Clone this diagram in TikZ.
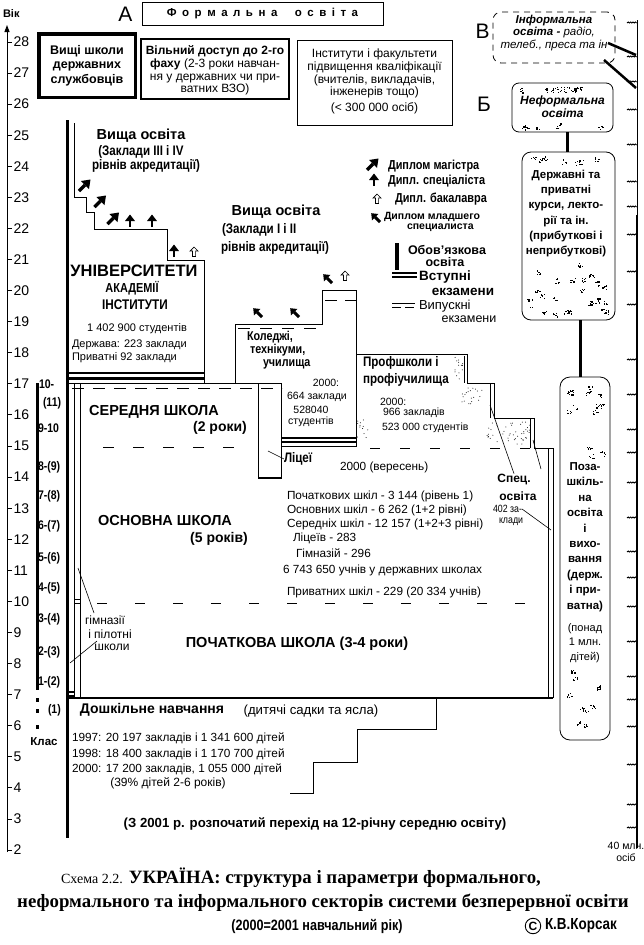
\documentclass[tikz,border=0pt]{standalone}
\usepackage{fontspec}
\setmainfont{Liberation Sans}
\newfontfamily\nar[FakeStretch=0.84]{Liberation Sans}
\newfontfamily\serf{Liberation Serif}
\usetikzlibrary{arrows.meta}
\newcommand\fz[2]{\fontsize{#1}{#2}\selectfont}
\newcommand\glyphs[5]{%
  \foreach \k in {1,...,#5}{%
    \pgfmathsetmacro\gx{#1+rnd*(#3-#1)}%
    \pgfmathsetmacro\gy{#2+rnd*(#4-#2)}%
    \foreach \m in {1,...,6}{%
      \fill ({\gx+rnd*5},{\gy+rnd*5}) rectangle ++(1.2,1.2);%
    }%
  }%
}
\newcommand\stip[5]{%
  \foreach \k in {1,...,#5}{%
    \fill ({#1+rnd*(#3-#1)},{#2+rnd*(#4-#2)}) circle (0.5pt);%
  }%
}
\newcommand\squig[1]{%
  \draw[line width=0.9pt] (627,#1) -- ++(1.2,-1) -- ++(1.2,1) -- ++(1.2,-1) -- ++(1.2,1) -- ++(1.2,-1) -- ++(1.2,1) -- ++(1.2,-1) -- ++(1.2,1);%
}
\tikzset{
  magar/.pic={\draw[line width=3.2pt] (-5,5) -- (1,-1); \fill (6.5,-6.5) -- (5,3) -- (-3,-5) -- cycle;},
  specar/.pic={\draw[line width=2.6pt] (0,6) -- (0,-1); \fill (0,-6.5) -- (-5,0) -- (5,0) -- cycle;},
  bacar/.pic={\draw[line width=0.7pt] (0,-5) -- (-4,-1) -- (-1.6,-1) -- (-1.6,4.5) -- (1.6,4.5) -- (1.6,-1) -- (4,-1) -- cycle;},
  junar/.pic={\begin{scope}[scale=0.8]\draw[line width=3pt] (5,5) -- (-1,-1); \fill (-6,-6) -- (-5,3) -- (3,-5) -- cycle;\end{scope}},
  cls/.style={anchor=west,font={\nar\bfseries\fz{12.5}{12.5}}},
  stat/.style={anchor=west,font={\fz{11.8}{11.8}}},
  bignar/.style={font={\nar\bfseries\fz{13.8}{13.8}}},
  kolnar/.style={anchor=west,font={\nar\bfseries\fz{12.8}{12.8}}},
  dashA/.style={dash pattern=on 12pt off 10pt},
}
\begin{document}
\begin{tikzpicture}[x=1pt,y=-1pt,line width=0.8pt,every node/.style={inner sep=0pt,outer sep=0pt}]
\useasboundingbox (0,0) rectangle (644,945);
\fill[white] (0,0) rectangle (644,945);
\pgfmathsetseed{4321}

% ---------- age axis ----------
\draw[line width=1pt,-{Triangle[length=7pt,width=5pt]}] (7,852) -- (7,25);
\foreach \a in {2,...,28}{
  \pgfmathsetmacro\yy{42+(28-\a)*31.08}
  \draw[line width=1pt] (7,\yy) -- (12,\yy);
  \node[anchor=west,font=\fz{14}{14}] (age\a) at (13.5,\yy) {\a};
}
\node[anchor=west,font={\bfseries\fz{11}{11}}] (vik) at (3,13.5) {Вік};

% ---------- class column ----------
\fill (35.5,383) rectangle (39,690);
\foreach \q in {698,709,725}{\fill (35.5,\q) rectangle (39,\q+4);}
\node[cls] (cl10) at (39,384) {10-};
\node[cls] (cl11) at (43,403) {(11)};
\node[cls] (cl9) at (38,428) {9-10};
\node[cls] (cl8) at (38,467) {8-(9)};
\node[cls] (cl7) at (38,496) {7-(8)};
\node[cls] (cl6) at (38,526) {6-(7)};
\node[cls] (cl5) at (38,558) {5-(6)};
\node[cls] (cl4) at (38,588) {4-(5)};
\node[cls] (cl3) at (38,619) {3-(4)};
\node[cls] (cl2) at (38,652) {2-(3)};
\node[cls] (cl1) at (38,682) {1-(2)};
\node[cls] (cl0) at (48,710) {(1)};
\node[font={\bfseries\fz{11.5}{11.5}}] (klas) at (44,742) {Клас};

% ---------- top boxes ----------
\node[font=\fz{21}{21}] (lA) at (125.5,14.5) {А};
\node[draw,minimum width=241pt,minimum height=23pt] (formal) at (262.5,13.5) {};
\node[font={\bfseries\fz{11.5}{11.5}}] (formaltxt) at (262.5,14) {\spaceskip=5.5pt Ф о р м а л ь н а \hspace{12pt}о с в і т а};

\node[draw,line width=3.5pt,minimum width=96.5pt,minimum height=63.5pt,align=center,font={\bfseries\fz{12.5}{14.5}}] (vshds) at (87,65.5) {Вищі школи\\державних\\службовців};

\node[draw,line width=2pt,minimum width=148pt,minimum height=60pt] (vdostup) at (215,69) {};
\node[align=center,font={\fz{12}{12.7}}] (vdostuptxt) at (215,70.5) {\textbf{Вільний доступ до 2-го}\\\textbf{фаху} (2-3 роки навчан-\\ня у державних чи при-\\ватних ВЗО)};

\node[draw,minimum width=155pt,minimum height=85pt] (instbox) at (374.5,82.5) {};
\node[align=center,font={\fz{12}{12.8}}] (insttxt) at (374.5,81.5) {Інститути і факультети\\підвищення кваліфікації\\(вчителів, викладачів,\\інженерів тощо)\\[3pt](< 300 000 осіб)};

% ---------- informal / non-formal ----------
\node[font=\fz{21}{21}] (lV) at (482.5,31.5) {В};
\node[draw,dash pattern=on 6pt off 5pt,rounded corners=8pt,minimum width=122pt,minimum height=51pt] (inf) at (554,37.5) {};
\node[align=center,font={\fz{11.5}{12.5}}] (inftxt) at (554,33) {\textbf{\textit{Інформальна}}\\\textbf{\textit{освіта -}} \textit{радіо,}\\\textit{телеб., преса та ін}};

\node[font=\fz{21}{21}] (lB) at (484,104.5) {Б};
\node[draw,rounded corners=7pt,minimum width=101pt,minimum height=49pt] (nef) at (562.5,107.5) {};
\node[align=center,font={\bfseries\itshape\fz{12}{13}}] (neftxt) at (562.5,106.5) {Неформальна\\освіта};

\node[draw,rounded corners=9pt,minimum width=93pt,minimum height=168pt] (kurs) at (568.5,236) {};
\node[align=center,font={\bfseries\fz{11.5}{15.3}}] (kurstxt) at (566,213.5) {Державні та\\приватні\\курси, лекто-\\рії та ін.\\(прибуткові і\\неприбуткові)};

\node[draw,rounded corners=10pt,minimum width=50pt,minimum height=363pt] (poza) at (585,558.5) {};
\node[align=center,font={\bfseries\fz{11.5}{15.4}}] (pozatxt) at (585,537) {Поза-\\шкіль-\\на\\освіта\\і\\вихо-\\вання\\(держ.\\і при-\\ватна)};
\node[align=center,font={\fz{11}{14.5}}] (pozatxt2) at (585,643) {(понад\\1 млн.\\дітей)};

\draw[line width=3pt] (nef.south -| 567,0) -- (kurs.north -| 567,0);
\draw[line width=3pt] (kurs.south -| 580,0) -- (poza.north -| 580,0);

% decorative glyphs
\glyphs{517}{85}{604}{88}{9}
\glyphs{516}{123}{605}{125}{5}
\glyphs{527}{155}{604}{160}{7}
\glyphs{527}{262}{605}{312}{24}
\glyphs{564}{383}{601}{455}{13}
\glyphs{564}{668}{601}{728}{10}

% right line
\coordinate (r1) at (636,55);
\coordinate (r2) at (636,88);
\draw[line width=1pt] (637,20) -- (637,215);
\draw[line width=2.5pt] (637,215) -- (637,848);
\draw[line width=2.5pt] (608,43) -- (r1);
\draw[line width=2.5pt] (604,60) -- (r2);
\foreach \s in {23,57,82,110,145,182,207,235,272,305,360,395,430,453,483,518,552,578,607,642,677,700,727,765,805,828}{\squig{\s}}
\node[align=center,font={\fz{10.5}{12}}] (mln) at (626,852) {40 млн.\\осіб};

% ---------- main formal structure ----------
\draw[line width=3pt] (67,120) -- (67,838);

% universities
\draw (74,123) -- (74,197) -- (86,197) -- (86,212) -- (94,212) -- (94,229) -- (167,229) -- (167,260) -- (204,260) -- (204,383);
\draw[line width=2.2pt] (68,373) -- (204,373);
\draw[line width=2.2pt] (68,378.5) -- (204,378.5);
\node[font={\bfseries\fz{14.5}{14.5}}] (vo1) at (141,136) {Вища освіта};
\node[bignar] (vo1a) at (141,152) {(Заклади III і IV};
\node[bignar] (vo1b) at (146,166) {рівнів акредитації)};
\pic at (84,186) {magar};
\pic at (99.5,202) {magar};
\pic at (112.5,219) {magar};
\pic at (130,221) {specar};
\pic at (152,221) {specar};
\pic at (174,251) {specar};
\pic at (194,252) {bacar};
\node[font={\bfseries\fz{16.5}{16.5}}] (univ) at (134,271) {УНІВЕРСИТЕТИ};
\node[font={\nar\bfseries\fz{13}{13}}] (akad) at (132,288) {АКАДЕМІЇ};
\node[font={\nar\bfseries\fz{14}{14}}] (instit) at (135,305) {ІНСТИТУТИ};
\node[font=\fz{11}{11}] (st1) at (137,329) {1 402 900 студентів};
\node[anchor=west,font=\fz{11}{11}] (st2) at (72,345) {Держава: 223 заклади};
\node[anchor=west,font=\fz{11}{11}] (st3) at (72,358) {Приватні 92 заклади};

% second higher education label
\node[font={\bfseries\fz{14.5}{14.5}}] (vo2) at (276,212) {Вища освіта};
\node[bignar,anchor=west] (vo2a) at (222,230) {(Заклади І і ІІ};
\node[bignar] (vo2b) at (275,248) {рівнів акредитації)};

% colleges
\draw (235,383) -- (235,324) -- (322,324) -- (322,290) -- (356,290) -- (356,447);
\draw[dashA] (238,328.5) -- (322,328.5);
\draw[dash pattern=on 12pt off 8pt] (325,300) -- (356,300);
\pic at (258,313) {junar};
\pic at (295,313) {junar};
\pic at (328,279) {junar};
\pic at (345,276) {bacar};
\node[kolnar] (kol1) at (247,337) {Коледжі,};
\node[kolnar] (kol2) at (250,350.5) {технікуми,};
\node[kolnar] (kol3) at (263,364) {училища};
\node[font=\fz{10.5}{10.5}] (k2000) at (326,383) {2000:};
\node[font=\fz{10.5}{10.5}] (k664) at (317,397) {664 заклади};
\node[font=\fz{10.5}{10.5}] (k528) at (311,410) {528040};
\node[font=\fz{10.5}{10.5}] (kstud) at (311,422) {студентів};
\draw[line width=2pt] (282,437.5) -- (356,437.5);
\draw[line width=2pt] (282,442) -- (356,442);
\draw[line width=0.8pt] (282,446.5) -- (356,446.5);

% secondary school top
\draw (68,383.5) -- (282,383.5);
\draw[dash pattern=on 12pt off 9pt] (72,388.5) -- (282,388.5);
\node[font={\bfseries\fz{14.5}{14.5}}] (sered) at (154,412) {СЕРЕДНЯ ШКОЛА};
\node[font={\bfseries\fz{14}{14}}] (sered2) at (220,428) {(2 роки)};

% lyceum
\draw (258,383) -- (258,479);
\draw (281,383) -- (281,479);
\draw[line width=2.5pt] (258,478) -- (281,478);
\node[bignar,anchor=west] (lic) at (284,459) {Ліцеї};
\draw[line width=0.6pt] (268,451) -- (lic.west);

% gymnasiums
\draw (74,383) -- (74,698);
\draw (80.5,383) -- (80.5,698);
\draw[line width=1.3pt] (74,599.5) -- (80.5,599.5);
\draw[line width=1.3pt] (74,603.5) -- (80.5,603.5);
\draw[line width=1.3pt] (67,692) -- (74,692);
\draw[line width=1.3pt] (67,696) -- (74,696);
\node[font=\fz{12}{12}] (gym1) at (105,620) {гімназії};
\node[font=\fz{12}{12}] (gym2) at (110,634) {і пілотні};
\node[font=\fz{12}{12}] (gym3) at (112,647) {школи};
\draw[line width=0.6pt] (78,568) -- (94,613);
\draw[line width=0.6pt] (70,663) -- (97,641);

% age-15 boundary
\draw[dash pattern=on 11pt off 19pt] (103,447.5) -- (245,447.5);
\draw[dash pattern=on 10pt off 20pt] (370,448) -- (530,448);

% vocational schools
\draw (356,354) -- (467,354) -- (467,383) -- (494,383) -- (494,418) -- (534,418) -- (534,448) -- (553,448) -- (553,698);
\draw (464,356) -- (464,383);
\draw (490,383) -- (490,418);
\draw (530,418) -- (530,448);
\draw (548,448) -- (548,698);
\stip{455}{357}{463}{380}{14}
\stip{462}{386}{484}{404}{20}
\stip{357}{419}{368}{438}{12}
\stip{487}{420}{530}{445}{45}
\node[bignar,anchor=west] (prof1) at (363,363) {Профшколи і};
\node[bignar,anchor=west] (prof2) at (363,380) {профіучилища};
\node[anchor=west,font=\fz{10.5}{10.5}] (p2000) at (380,402) {2000:};
\node[anchor=west,font=\fz{10.5}{10.5}] (p966) at (383,413) {966 закладів};
\node[anchor=west,font=\fz{10.5}{10.5}] (p523) at (382,428) {523 000 студентів};

% special education
\node[font={\bfseries\fz{12}{12}}] (spec1) at (514,479) {Спец.};
\node[font={\bfseries\fz{12}{12}}] (spec2) at (518,496) {освіта};
\node[anchor=west,font={\nar\fz{10.5}{10.5}}] (spec3) at (493,509) {402 за-};
\node[anchor=west,font={\nar\fz{10.5}{10.5}}] (spec4) at (499,521.5) {клади};
\draw[line width=0.6pt] (490,405) -- (spec1.north);
\draw[line width=0.6pt] (533,440) -- (541,469);
\draw[line width=0.6pt] (spec3.east) -- (551,530);

% basic school
\node[font={\bfseries\fz{14.5}{14.5}}] (osn) at (165,521) {ОСНОВНА ШКОЛА};
\node[font={\bfseries\fz{14}{14}}] (osn2) at (219,539) {(5 років)};
\node[stat] (s0) at (340,467) {2000 (вересень)};
\node[stat] (s1) at (287,496) {Початкових шкіл -  3 144 (рівень 1)};
\node[stat] (s2) at (287,510) {Основних шкіл - 6 262 (1+2 рівні)};
\node[stat] (s3) at (287,524) {Середніх шкіл - 12 157 (1+2+3 рівні)};
\node[stat] (s4) at (293,538) {Ліцеїв  - 283};
\node[stat] (s5) at (296,553) {Гімназій - 296};
\node[stat] (s6) at (283,570) {6 743 650 учнів у державних школах};
\node[stat] (s7) at (287,592) {Приватних шкіл -  229  (20 334  учнів)};
\draw[dash pattern=on 10pt off 28pt] (97,603) -- (548,603);

% primary school
\node[font={\bfseries\fz{14.5}{14.5}}] (poch) at (297,644) {ПОЧАТКОВА ШКОЛА (3-4 роки)};
\draw[line width=1.2pt] (67,698) -- (553,698);

% preschool
\draw (436,698) -- (436,729) -- (357,729) -- (357,762) -- (313,762) -- (313,793) -- (290,793);
\node[font={\bfseries\fz{14}{14}}] (dosh) at (152,710) {Дошкільне навчання};
\node[font=\fz{13.2}{13.2}] (dosh2) at (311,711) {(дитячі садки та ясла)};
\node[stat] (d1) at (72,738) {1997: 20 197 закладів і 1 341 600 дітей};
\node[stat] (d2) at (72,754) {1998: 18 400 закладів і  1 170 700 дітей};
\node[stat] (d3) at (72,769) {2000: 17 200 закладів, 1 055 000 дітей};
\node[font=\fz{12}{12}] (d4) at (168,783) {(39\% дітей 2-6 років)};

\node[font={\bfseries\fz{13.2}{13.2}}] (perehid) at (315,824) {(З 2001 р. розпочатий перехід на 12-річну середню освіту)};

% ---------- legend ----------
\pic at (372,165) {magar};
\pic at (374,180) {specar};
\pic at (377,199) {bacar};
\pic at (376,218) {junar};
\node[anchor=west,font={\nar\bfseries\fz{13}{13}}] (lg1) at (388,166) {Диплом магістра};
\node[anchor=west,font={\nar\bfseries\fz{13}{13}}] (lg2) at (388,181) {Дипл. спеціаліста};
\node[anchor=west,font={\nar\bfseries\fz{13}{13}}] (lg3) at (395,199) {Дипл. бакалавра};
\node[anchor=west,font={\bfseries\fz{10.5}{10.5}}] (lg4) at (384,217) {Диплом младшего};
\node[anchor=west,font={\bfseries\fz{10.5}{10.5}}] (lg5) at (407,228) {специалиста};
\draw[line width=4pt] (396.5,243) -- (396.5,270);
\node[anchor=west,font={\bfseries\fz{12.5}{12.5}}] (lg6) at (408,250) {Обов'язкова};
\node[font={\bfseries\fz{12.5}{12.5}}] (lg7) at (445,262) {освіта};
\draw[line width=2pt] (392,272.5) -- (417,272.5);
\draw[line width=2pt] (392,277) -- (417,277);
\node[anchor=west,font={\bfseries\fz{13.5}{13.5}}] (lg8) at (419,277.5) {Вступні};
\node[font={\bfseries\fz{13.5}{13.5}}] (lg9) at (463,292) {екзамени};
\draw[line width=0.7pt] (392,303) -- (415,303);
\draw[line width=0.7pt,dash pattern=on 9pt off 4pt] (392,307.5) -- (415,307.5);
\node[anchor=west,font={\fz{13}{13}}] (lg10) at (419,306) {Випускні};
\node[font={\fz{12.5}{12.5}}] (lg11) at (469,319) {екзамени};

% ---------- title ----------
\node[font={\serf\fz{18.8}{18.8}}] (tit1) at (301,878) {{\fz{14}{14}Схема 2.2.}\hspace{6pt}\textbf{УКРАЇНА: структура і параметри формального,}};
\node[font={\serf\bfseries\fz{18.8}{18.8}}] (tit2) at (323,903) {неформального та інформального секторів системи безперервної освіти};
\node[font={\nar\bfseries\fz{15}{15}}] (tit3) at (317,926) {(2000=2001 навчальний рік)};
\node[draw,circle,line width=0.9pt,inner sep=1.2pt,font={\bfseries\fz{12}{12}}] (copyr) at (533,926) {C};
\node[anchor=west,font={\nar\bfseries\fz{16}{16}}] (kors) at (545,926) {К.В.Корсак};
\end{tikzpicture}
\end{document}
